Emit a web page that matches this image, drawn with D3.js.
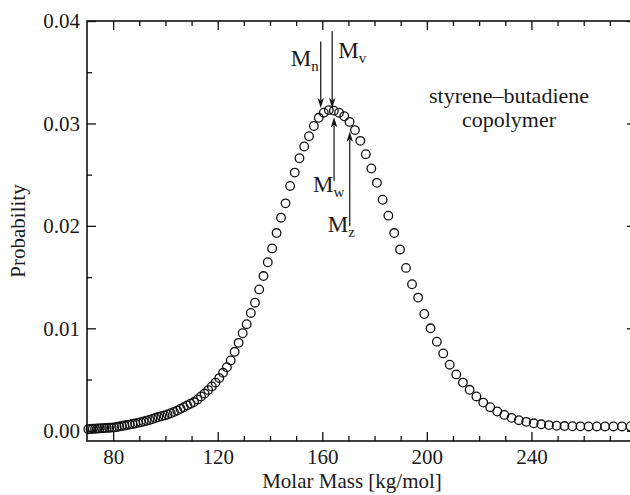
<!DOCTYPE html>
<html>
<head>
<meta charset="utf-8">
<script src="https://cdn.jsdelivr.net/npm/d3@7"></script>
<style>
  html, body { margin: 0; padding: 0; background: #fff; overflow: hidden; }
  svg { display: block; }
</style>
</head>
<body>
<svg id="chart" width="630" height="495"></svg>
<script>
// Molar mass distribution of a styrene–butadiene copolymer
const molarMass = [
  70.50, 71.35, 72.20, 73.07, 73.95, 74.83, 75.73, 76.64, 77.56, 78.49,
  79.43, 80.38, 81.35, 82.33, 83.31, 84.31, 85.32, 86.35, 87.39, 88.43,
  89.50, 90.57, 91.66, 92.76, 93.87, 95.00, 96.14, 97.29, 98.46, 99.64,
  100.83, 102.04, 103.27, 104.51, 105.76, 107.03, 108.32, 109.61, 110.93, 112.26,
  113.61, 114.97, 116.35, 117.75, 119.16, 120.59, 122.04, 123.50, 124.98, 126.48,
  128.00, 129.54, 131.09, 132.67, 134.26, 135.87, 137.50, 139.15, 140.82, 142.51,
  144.22, 145.95, 147.70, 149.47, 151.27, 153.08, 154.92, 156.78, 158.66, 160.56,
  162.49, 164.44, 166.41, 168.41, 170.43, 172.48, 174.54, 176.64, 178.76, 180.90,
  183.08, 185.27, 187.50, 189.75, 192.02, 194.33, 196.66, 199.02, 201.41, 203.82,
  206.27, 208.74, 211.25, 213.79, 216.35, 218.95, 221.57, 224.23, 226.92, 229.65,
  232.40, 235.19, 238.01, 240.87, 243.76, 246.69, 249.65, 252.64, 255.67, 258.74,
  261.85, 264.99, 268.17, 271.39, 274.64, 277.94
];
const probability = [
  0.00015, 0.00017, 0.00019, 0.00020, 0.00022, 0.00023, 0.00025, 0.00026, 0.00028, 0.00029,
  0.00031, 0.00033, 0.00037, 0.00041, 0.00046, 0.00051, 0.00056, 0.00060, 0.00066, 0.00071,
  0.00077, 0.00083, 0.00090, 0.00097, 0.00105, 0.00115, 0.00124, 0.00134, 0.00142, 0.00150,
  0.00159, 0.00172, 0.00184, 0.00197, 0.00214, 0.00230, 0.00248, 0.00264, 0.00280, 0.00305,
  0.00335, 0.00363, 0.00397, 0.00433, 0.00470, 0.00514, 0.00566, 0.00621, 0.00687, 0.00771,
  0.00858, 0.00952, 0.01040, 0.01150, 0.01250, 0.01380, 0.01510, 0.01645, 0.01780, 0.01930,
  0.02080, 0.02220, 0.02390, 0.02520, 0.02660, 0.02775, 0.02875, 0.02975, 0.03055, 0.03105,
  0.03130, 0.03125, 0.03105, 0.03070, 0.03015, 0.02935, 0.02830, 0.02700, 0.02560, 0.02420,
  0.02255, 0.02100, 0.01930, 0.01770, 0.01590, 0.01430, 0.01300, 0.01140, 0.01000, 0.00870,
  0.00755, 0.00645, 0.00550, 0.00470, 0.00400, 0.00335, 0.00275, 0.00230, 0.00188, 0.00155,
  0.00126, 0.00103, 0.00087, 0.00073, 0.00063, 0.00055, 0.00049, 0.00046, 0.00044, 0.00043,
  0.00042, 0.00042, 0.00042, 0.00042, 0.00042, 0.00042
];

const massTicks = [80, 120, 160, 200, 240];
const massMinorTicks = [90, 100, 110, 130, 140, 150, 170, 180, 190, 210, 220, 230, 250, 260, 270];
const probTicks = [0, 0.01, 0.02, 0.03, 0.04];
const probTickLabels = ["0.00", "0.01", "0.02", "0.03", "0.04"];
const probMinorTicks = [0.005, 0.015, 0.025, 0.035];

// Average molar masses marked by arrows
const averageNames = ["n", "v", "w", "z"];
const averageMass = [159.4, 163.8, 164.5, 170.5];
const arrowFrom = [0.0380, 0.0390, 0.0244, 0.0200];
const arrowTo = [0.0315, 0.0315, 0.0306, 0.0292];

const annotationLines = ["styrene\u2013butadiene", "copolymer"];
const xTitle = "Molar Mass [kg/mol]";
const yTitle = "Probability";

const FONT = "'Liberation Serif', 'DejaVu Serif', serif";
const INK = "#1a1a1a";

const svg = d3.select("#chart");
const plot = { left: 87, right: 636, top: 21, bottom: 441 };

const x = d3.scaleLinear().domain([70, 280]).range([plot.left, plot.right]);
const y = d3.scaleLinear().domain([-0.001, 0.04]).range([plot.bottom, plot.top]);

const major = 9, minor = 5;

function styleAxis(g) {
  g.attr("font-family", null).attr("font-size", null);
  g.select(".domain").remove();
  g.selectAll(".tick line").attr("stroke", "#111").attr("stroke-width", 1.3);
  g.selectAll(".tick text")
    .style("font-family", FONT).style("font-size", "21px").attr("fill", INK);
}

// bottom axis (labelled) and its minor ticks
svg.append("g").attr("transform", `translate(0,${plot.bottom})`)
  .call(d3.axisBottom(x).tickValues(massTicks).tickSize(-major).tickPadding(8).tickFormat(d3.format("d")))
  .call(styleAxis);
svg.append("g").attr("transform", `translate(0,${plot.bottom})`)
  .call(d3.axisBottom(x).tickValues(massMinorTicks).tickSize(-minor).tickFormat(""))
  .call(styleAxis);
// top axis
svg.append("g").attr("transform", `translate(0,${plot.top})`)
  .call(d3.axisTop(x).tickValues(massTicks).tickSize(-major).tickFormat(""))
  .call(styleAxis);
svg.append("g").attr("transform", `translate(0,${plot.top})`)
  .call(d3.axisTop(x).tickValues(massMinorTicks).tickSize(-minor).tickFormat(""))
  .call(styleAxis);
// left axis (labelled)
svg.append("g").attr("transform", `translate(${plot.left},0)`)
  .call(d3.axisLeft(y).tickValues(probTicks).tickSize(-major).tickPadding(7)
    .tickFormat((d, i) => probTickLabels[i]))
  .call(styleAxis);
svg.append("g").attr("transform", `translate(${plot.left},0)`)
  .call(d3.axisLeft(y).tickValues(probMinorTicks).tickSize(-minor).tickFormat(""))
  .call(styleAxis);
// right axis
svg.append("g").attr("transform", `translate(${plot.right},0)`)
  .call(d3.axisRight(y).tickValues(probTicks).tickSize(-major).tickFormat(""))
  .call(styleAxis);
svg.append("g").attr("transform", `translate(${plot.right},0)`)
  .call(d3.axisRight(y).tickValues(probMinorTicks).tickSize(-minor).tickFormat(""))
  .call(styleAxis);

// frame
svg.append("rect")
  .attr("x", plot.left).attr("y", plot.top)
  .attr("width", plot.right - plot.left).attr("height", plot.bottom - plot.top)
  .attr("fill", "none").attr("stroke", "#111").attr("stroke-width", 1.6);

// data points
svg.append("g").selectAll("circle")
  .data(molarMass.map((m, i) => [m, probability[i]]))
  .join("circle")
  .attr("cx", d => x(d[0]))
  .attr("cy", d => y(d[1]))
  .attr("r", 4.3)
  .attr("fill", "none")
  .attr("stroke", "#111")
  .attr("stroke-width", 1.3);

// arrows for the averages
const head = 10, halfW = 3.2;
const arrows = svg.append("g");
averageNames.forEach((name, i) => {
  const ax = x(averageMass[i]);
  const y0 = y(arrowFrom[i]);
  const y1 = y(arrowTo[i]);
  const dir = y1 > y0 ? 1 : -1;
  arrows.append("line")
    .attr("x1", ax).attr("y1", y0)
    .attr("x2", ax).attr("y2", y1 - dir * head * 0.8)
    .attr("stroke", "#222").attr("stroke-width", 1.3);
  arrows.append("path")
    .attr("d", `M${ax},${y1} L${ax - halfW},${y1 - dir * head} L${ax},${y1 - dir * head * 0.75} L${ax + halfW},${y1 - dir * head} Z`)
    .attr("fill", "#111");
});

// arrow labels: M with subscript
const labelPlacement = {
  n: { dx: -30, dy: 25 },
  v: { dx: 6, dy: 27 },
  w: { dx: -21, dy: 11 },
  z: { dx: -22, dy: 6.5 }
};
averageNames.forEach((name, i) => {
  const p = labelPlacement[name];
  const t = svg.append("text")
    .attr("x", x(averageMass[i]) + p.dx)
    .attr("y", y(arrowFrom[i]) + p.dy)
    .style("font-family", FONT).style("font-size", "23px").attr("fill", INK);
  t.append("tspan").text("M");
  t.append("tspan").attr("dy", 5).style("font-size", "15px").text(name);
});

// annotation
svg.append("text")
  .attr("x", 509).attr("y", 103)
  .attr("text-anchor", "middle")
  .style("font-family", FONT).style("font-size", "22px").attr("fill", INK)
  .selectAll("tspan").data(annotationLines).join("tspan")
  .attr("x", 509).attr("dy", (d, i) => i === 0 ? 0 : 24)
  .text(d => d);

// axis titles
svg.append("text")
  .attr("x", 352).attr("y", 488)
  .attr("text-anchor", "middle")
  .style("font-family", FONT).style("font-size", "21px").attr("fill", INK)
  .text(xTitle);
svg.append("text")
  .attr("transform", `translate(25,${(plot.top + plot.bottom) / 2}) rotate(-90)`)
  .attr("text-anchor", "middle")
  .style("font-family", FONT).style("font-size", "21px").attr("fill", INK)
  .text(yTitle);
</script>
</body>
</html>
